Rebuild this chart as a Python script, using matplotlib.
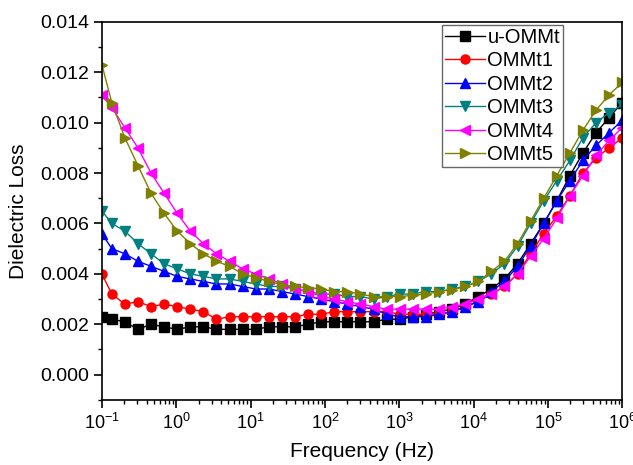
import matplotlib
matplotlib.use('Agg')
import matplotlib.pyplot as plt
from matplotlib.ticker import MultipleLocator, LogLocator, NullFormatter, FormatStrFormatter

plt.rcParams['font.family'] = ['Liberation Sans', 'DejaVu Sans']
plt.rcParams['mathtext.fontset'] = 'custom'
plt.rcParams['mathtext.rm'] = 'Liberation Sans'
plt.rcParams['mathtext.it'] = 'Liberation Sans'

# frequency sweep (Hz)
freq = [0.1, 0.1357, 0.2035, 0.3052, 0.4579, 0.6868, 1.030, 1.545, 2.318, 3.477,
        5.216, 7.823, 11.73, 17.60, 26.40, 39.61, 59.41, 89.11, 133.7, 200.5,
        300.7, 451.1, 676.7, 1015, 1522, 2284, 3426, 5138, 7707, 11561,
        17342, 26012, 39018, 58528, 87791, 131687, 197531, 296296, 444444, 666667,
        1000000]

u_ommt = [0.0023, 0.0022, 0.0021, 0.0018, 0.0020, 0.0019, 0.0018, 0.0019, 0.0019, 0.0018,
          0.0018, 0.0018, 0.0018, 0.0019, 0.0019, 0.0019, 0.0020, 0.0021, 0.0021, 0.0021,
          0.0021, 0.0021, 0.0022, 0.0022, 0.0023, 0.0024, 0.0025, 0.0026, 0.0028, 0.0031,
          0.0034, 0.0038, 0.0044, 0.0052, 0.0060, 0.0069, 0.0079, 0.0088, 0.0096, 0.0102,
          0.0108]
ommt1 = [0.0040, 0.0032, 0.0028, 0.0029, 0.0027, 0.0028, 0.0027, 0.0026, 0.0025, 0.0022,
         0.0023, 0.0023, 0.0023, 0.0023, 0.0023, 0.0023, 0.0024, 0.0024, 0.0025, 0.0025,
         0.0025, 0.0025, 0.0025, 0.0024, 0.0024, 0.0024, 0.0024, 0.0025, 0.0027, 0.0029,
         0.0032, 0.0035, 0.0040, 0.0048, 0.0056, 0.0063, 0.0071, 0.0080, 0.0086, 0.0090,
         0.0094]
ommt2 = [0.0056, 0.0050, 0.0048, 0.0045, 0.0043, 0.0041, 0.0039, 0.0038, 0.0037, 0.0036,
         0.0036, 0.0035, 0.0034, 0.0034, 0.0033, 0.0032, 0.0031, 0.0030, 0.0029, 0.0028,
         0.0027, 0.0026, 0.0024, 0.0023, 0.0023, 0.0023, 0.0024, 0.0025, 0.0027, 0.0029,
         0.0033, 0.0037, 0.0043, 0.0051, 0.0060, 0.0069, 0.0077, 0.0085, 0.0091, 0.0096,
         0.0101]
ommt3 = [0.0065, 0.0060, 0.0057, 0.0052, 0.0048, 0.0044, 0.0042, 0.0040, 0.0039, 0.0038,
         0.0038, 0.0037, 0.0036, 0.0035, 0.0035, 0.0034, 0.0033, 0.0032, 0.0032, 0.0031,
         0.0031, 0.0030, 0.0031, 0.0032, 0.0032, 0.0033, 0.0033, 0.0034, 0.0035, 0.0037,
         0.0040, 0.0044, 0.0051, 0.0060, 0.0069, 0.0077, 0.0085, 0.0094, 0.0100, 0.0104,
         0.0107]
ommt4 = [0.0111, 0.0106, 0.0098, 0.0090, 0.0080, 0.0072, 0.0064, 0.0057, 0.0052, 0.0048,
         0.0045, 0.0042, 0.0040, 0.0038, 0.0036, 0.0034, 0.0033, 0.0031, 0.0030, 0.0029,
         0.0028, 0.0027, 0.0026, 0.0026, 0.0026, 0.0026, 0.0026, 0.0027, 0.0028, 0.0030,
         0.0032, 0.0035, 0.0040, 0.0047, 0.0054, 0.0062, 0.0071, 0.0079, 0.0087, 0.0093,
         0.0098]
ommt5 = [0.0123, 0.0108, 0.0094, 0.0083, 0.0072, 0.0064, 0.0057, 0.0052, 0.0048, 0.0045,
         0.0043, 0.0040, 0.00385, 0.0037, 0.00357, 0.0035, 0.00345, 0.0034, 0.0033, 0.0033,
         0.0032, 0.0031, 0.0031, 0.0031, 0.00315, 0.0032, 0.0033, 0.00337, 0.0035, 0.0037,
         0.0041, 0.0045, 0.0052, 0.0061, 0.0070, 0.0079, 0.0088, 0.0097, 0.0105, 0.0111,
         0.0116]

series = [('u-OMMt', u_ommt, 'black', 's'),
          ('OMMt1', ommt1, 'red', 'o'),
          ('OMMt2', ommt2, 'blue', '^'),
          ('OMMt3', ommt3, '#008080', 'v'),
          ('OMMt4', ommt4, 'magenta', '<'),
          ('OMMt5', ommt5, '#808000', '>')]

fig = plt.figure(figsize=(6.33, 4.65), dpi=100)
ax = fig.add_axes([0.161, 0.140, 0.822, 0.813])

for name, vals, col, mk in series:
    ax.plot(freq, vals, color=col, marker=mk, markersize=6.5, linewidth=1.0, label=name)

ax.set_xscale('log')
ax.set_xlim(0.1, 1e6)
ax.set_ylim(-0.001, 0.014)
ax.yaxis.set_major_locator(MultipleLocator(0.002))
ax.yaxis.set_minor_locator(MultipleLocator(0.001))
ax.yaxis.set_major_formatter(FormatStrFormatter('%.3f'))
ax.xaxis.set_major_locator(LogLocator(base=10, numticks=10))
ax.xaxis.set_minor_locator(LogLocator(base=10, subs=range(2, 10), numticks=20))
ax.xaxis.set_minor_formatter(NullFormatter())

ax.tick_params(which='both', direction='out', top=False, right=False)
ax.tick_params(axis='y', labelsize=14, pad=3)
ax.tick_params(axis='x', labelsize=13, pad=3)
ax.tick_params(which='major', length=6, width=1.2)
ax.tick_params(which='minor', length=3, width=1.0)
for s in ax.spines.values():
    s.set_linewidth(1.2)

ax.set_xlabel('Frequency (Hz)', fontsize=15, labelpad=7)
ax.set_ylabel('Dielectric Loss', fontsize=15, labelpad=9)

leg = ax.legend(loc='upper right', bbox_to_anchor=(0.886, 0.992), fontsize=14.5, frameon=True,
                fancybox=False, edgecolor='#444444', handlelength=2.0, borderpad=0.15,
                labelspacing=0.22, handletextpad=0.1, borderaxespad=0.0)
leg.get_frame().set_linewidth(1.0)
for t in leg.get_texts():
    t.set_ha('right')
leg._legend_box.align = 'right'

fig.savefig('out.png', dpi=100)
